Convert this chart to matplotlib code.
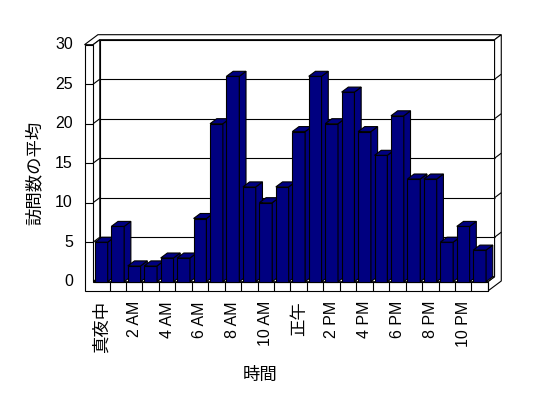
import matplotlib
matplotlib.use("Agg")
import matplotlib.pyplot as plt
from matplotlib.patches import Polygon

# ---- data ----
hours = list(range(24))
visits = [5, 7, 2, 2, 3, 3, 8, 20, 26, 12, 10, 12,
          19, 26, 20, 24, 19, 16, 21, 13, 13, 5, 7, 4]
x_tick_pos = [0, 2, 4, 6, 8, 10, 12, 14, 16, 18, 20, 22]
x_tick_labels = ["真夜中", "2 AM", "4 AM", "6 AM", "8 AM", "10 AM",
                 "正午", "2 PM", "4 PM", "6 PM", "8 PM", "10 PM"]
y_ticks = [0, 5, 10, 15, 20, 25, 30]
x_title = "時間"
y_title = "訪問数の平均"

# ---- layout (pixel geometry of the 3D frame) ----
W, H = 548, 398
S = 16.45          # px per category
V = 7.9            # px per value unit
X0 = 101.3         # px of category 0 centre
Y0 = 281.7         # px of value 0 at front plane
DX = 6.7 / S       # depth offset in data units
DY = 5.0 / V
FT = (291 - 281.7) / V          # floor thickness
LW_OUT = (84.5 - X0) / S        # outer x of left wall
XL = -0.5
XR = len(hours) - 0.5
YMAX = y_ticks[-1]

NAVY = "#000080"
LW = 0.8

fig = plt.figure(figsize=(W / 100, H / 100), dpi=100)
ax = fig.add_axes([0, 0, 1, 1])
ax.set_xlim(-X0 / S, (W - X0) / S)
ax.set_ylim((Y0 - H) / V, Y0 / V)
ax.axis("off")


def P(x, v, d=0.0):
    return (x + d * DX, v + d * DY)


def poly(pts, z, fc="white"):
    ax.add_patch(Polygon(pts, closed=True, facecolor=fc, edgecolor="black",
                         lw=LW, zorder=z, joinstyle="miter"))


def line(a, b, z=1.5):
    ax.plot([a[0], b[0]], [a[1], b[1]], color="black", lw=LW, zorder=z,
            solid_capstyle="butt")


# back wall front face
poly([P(XL, 0, 1), P(XR, 0, 1), P(XR, YMAX, 1), P(XL, YMAX, 1)], 1)
# top faces (left wall + back wall)
poly([P(LW_OUT, YMAX, 0), P(XL, YMAX, 0), P(XL, YMAX, 1), P(XR, YMAX, 1),
      P(XR, YMAX, 2), P(LW_OUT, YMAX, 2)], 1)
# right end faces (back wall + floor)
poly([P(XR, -FT, 0), P(XR, 0, 0), P(XR, 0, 1), P(XR, YMAX, 1),
      P(XR, YMAX, 2), P(XR, -FT, 2)], 1)
# left wall inner face
poly([P(XL, 0, 0), P(XL, YMAX, 0), P(XL, YMAX, 1), P(XL, 0, 1)], 1)
# floor top
poly([P(XL, 0, 0), P(XR, 0, 0), P(XR, 0, 1), P(XL, 0, 1)], 1)
# left wall front face + floor front face
poly([P(LW_OUT, -FT), P(XR, -FT), P(XR, 0), P(XL, 0), P(XL, YMAX),
      P(LW_OUT, YMAX)], 1)

# gridlines / tick marks
for t in y_ticks[1:-1]:
    line(P(XL, t, 1), P(XR, t, 1))
    line(P(XL, t, 0), P(XL, t, 1))
    line(P(LW_OUT, t, 0), P(XL, t, 0))
    line(P(XR, t, 1), P(XR, t, 2))
for k in range(1, len(hours) + 1):
    line(P(XL + k, -FT), P(XL + k, 0))

# bars
w = 0.78
bars = ax.bar(hours, visits, width=w, color=NAVY, edgecolor="black",
              linewidth=LW)
for i, (b, v) in enumerate(zip(bars, visits)):
    z = 3 + 2 * i
    b.set_zorder(z)
    xr = i + w / 2
    xl = i - w / 2
    poly([P(xr, 0, 0), P(xr, v, 0), P(xr, v, 1), P(xr, 0, 1)], z + 0.5, NAVY)
    poly([P(xl, v, 0), P(xr, v, 0), P(xr, v, 1), P(xl, v, 1)], z + 0.5, NAVY)

# tick labels
LAT = ["Liberation Sans", "Noto Sans CJK JP"]
CJK = ["Noto Sans CJK JP", "DejaVu Sans"]
for t in y_ticks:
    ax.text((73 - X0) / S, t, str(t), ha="right", va="center",
            fontsize=11.5, family=LAT)
for pos, lab in zip(x_tick_pos, x_tick_labels):
    is_cjk = any(ord(c) > 0x2e80 for c in lab)
    ax.text(pos, (Y0 - 301) / V, lab, rotation=90, ha="center", va="top",
            fontsize=12.5 if is_cjk else 11.5, family=CJK if is_cjk else LAT,
            rotation_mode="anchor" if False else "default")

ax.text((260 - X0) / S, (Y0 - 375) / V, x_title, ha="center", va="center",
        fontsize=12.5, family=CJK)
ax.text((35 - X0) / S, (Y0 - 172.5) / V, y_title, ha="center", va="center",
        rotation=90, fontsize=12.5, family=CJK)

fig.savefig("out.png", dpi=100)
